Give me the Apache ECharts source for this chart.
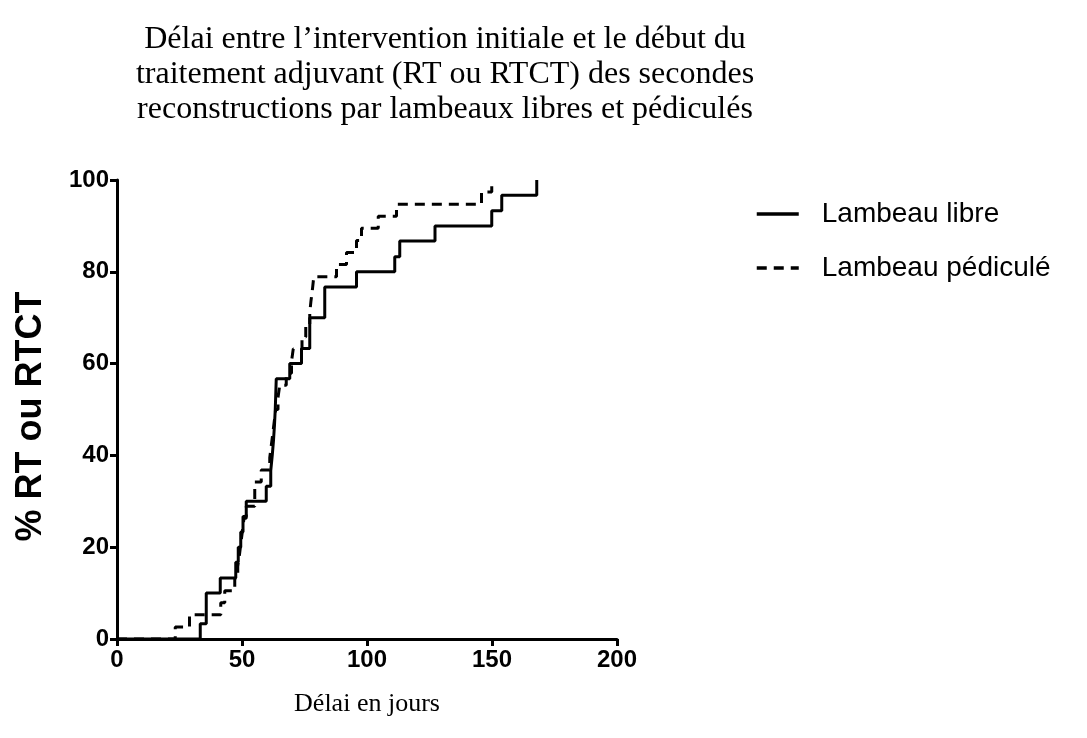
<!DOCTYPE html>
<html>
<head>
<meta charset="utf-8">
<script src="https://cdn.jsdelivr.net/npm/echarts@6/dist/echarts.min.js"></script>
<style>
  html, body { margin: 0; padding: 0; background: #fff; }
  #chart { width: 1087px; height: 738px; }
</style>
</head>
<body>
<div id="chart"></div>
<script>
  // jours et % cumulés
  const libreDays = [0, 33.3, 35.7, 41.3, 47.5, 48.5, 49.5, 50.4, 51.7, 59.7, 61.5, 62.1, 62.6, 63.0, 63.3, 63.5, 63.7, 69.1, 73.8, 77.1, 77.1, 83.1, 83.1, 95.8, 111.1, 113.1, 127.2, 149.9, 153.9, 167.9];
  const librePct = [0, 3.3, 10, 13.3, 16.7, 20, 23.3, 26.7, 30, 33.3, 36.7, 40, 43.3, 46.7, 50, 53.3, 56.7, 60, 63.3, 66.7, 70, 73.3, 76.7, 80, 83.3, 86.7, 90, 93.3, 96.7, 100];

  const pediculeDays = [0, 23.3, 29.0, 41.5, 43.1, 47.1, 48.3, 49.0, 49.6, 50.2, 50.8, 51.7, 55.1, 55.1, 57.7, 61.1, 61.7, 62.3, 62.9, 63.5, 64.4, 65.1, 67.7, 69.8, 70.5, 74.0, 75.5, 77.1, 77.6, 78.2, 78.7, 87.8, 91.8, 95.8, 97.8, 104.5, 111.8, 145.8, 149.9];
  const pediculePct = [0, 2.6, 5.3, 7.9, 10.5, 13.2, 15.8, 18.4, 21.1, 23.7, 26.3, 28.9, 31.6, 34.2, 36.8, 39.5, 42.1, 44.7, 47.4, 50, 52.6, 55.3, 57.9, 60.5, 63.2, 65.8, 68.4, 71.1, 73.7, 76.3, 78.9, 81.6, 84.2, 86.8, 89.5, 92.1, 94.7, 97.4, 100];

  const xTicks = [0, 50, 100, 150, 200];
  const yTicks = [0, 20, 40, 60, 80, 100];

  const pairs = (xs, ys) => xs.map((x, i) => [x, ys[i]]);

  const sans = '"Liberation Sans", Arial, sans-serif';
  const serif = '"Liberation Serif", "Times New Roman", serif';

  const myChart = echarts.init(document.getElementById('chart'));
  const axisCommon = {
    type: 'value',
    axisLine: { show: true, lineStyle: { color: '#000', width: 3 } },
    axisTick: { show: true, length: 7, lineStyle: { color: '#000', width: 3 } },
    splitLine: { show: false },
    axisLabel: { color: '#000', fontFamily: sans, fontWeight: 'bold', fontSize: 24 }
  };

  const option = {
    backgroundColor: '#fff',
    animation: false,
    title: {
      text: 'Délai entre l’intervention initiale et le début du\ntraitement adjuvant (RT ou RTCT) des secondes\nreconstructions par lambeaux libres et pédiculés',
      left: 440,
      top: 17,
      textAlign: 'center',
      textStyle: { fontFamily: serif, fontWeight: 'normal', fontSize: 32, lineHeight: 35, color: '#000' }
    },
    legend: {
      orient: 'vertical',
      left: 750,
      top: 193,
      itemWidth: 42,
      itemHeight: 14,
      itemGap: 22,
      itemStyle: { opacity: 0 },
      lineStyle: { width: 3.5 },
      textStyle: { fontFamily: sans, fontSize: 28, color: '#000', lineHeight: 32, padding: [0, 0, 0, 18] },
      data: ['Lambeau libre', 'Lambeau pédiculé']
    },
    grid: { left: 117, top: 180, width: 500, height: 459 },
    xAxis: Object.assign({}, axisCommon, {
      min: xTicks[0], max: xTicks[xTicks.length - 1], interval: 50,
      axisLabel: Object.assign({}, axisCommon.axisLabel, { margin: 9 }),
      name: 'Délai en jours',
      nameLocation: 'middle',
      nameGap: 52,
      nameTextStyle: { fontFamily: serif, fontSize: 26, color: '#000' }
    }),
    yAxis: Object.assign({}, axisCommon, {
      min: yTicks[0], max: yTicks[yTicks.length - 1], interval: 20,
      axisLabel: Object.assign({}, axisCommon.axisLabel, { margin: 8 }),
      name: '% RT ou RTCT',
      nameLocation: 'middle',
      nameGap: 68,
      nameTextStyle: { fontFamily: sans, fontWeight: 'bold', fontSize: 36, color: '#000', padding: [0, 14, 0, 0] }
    }),
    series: [
      {
        name: 'Lambeau libre',
        type: 'line',
        step: 'end',
        symbol: 'none',
        color: '#000',
        lineStyle: { color: '#000', width: 3 },
        data: pairs(libreDays, librePct)
      },
      {
        name: 'Lambeau pédiculé',
        type: 'line',
        step: 'end',
        symbol: 'none',
        color: '#000',
        lineStyle: { color: '#000', width: 3, type: [10, 7] },
        data: pairs(pediculeDays, pediculePct)
      }
    ]
  };
  myChart.setOption(option);
</script>
</body>
</html>
